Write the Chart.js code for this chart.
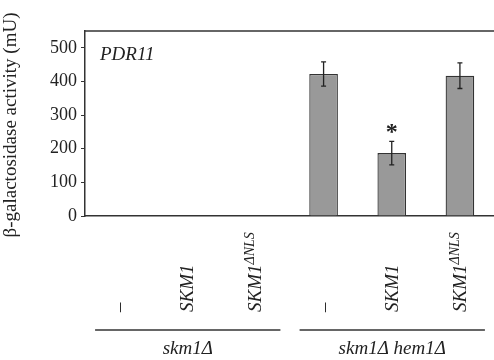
<!DOCTYPE html>
<html>
<head>
<meta charset="utf-8">
<script src="https://cdn.jsdelivr.net/npm/chart.js@4.4.1/dist/chart.umd.min.js"></script>
<style>
  body { margin: 0; background: #fff; }
</style>
</head>
<body>
<canvas id="myBarChart" width="494" height="360"></canvas>
<script>
// data
const categories = ['\u2013', 'SKM1', 'SKM1', '\u2013', 'SKM1', 'SKM1'];
const superscripts = ['', '', '\u0394NLS', '', '', '\u0394NLS'];
const activity = [0, 0, 0, 422, 187, 417];
const errors = [0, 0, 0, 36, 35, 38];
const stars = ['', '', '', '', '*', ''];
const groupNames = ['skm1\u0394', 'skm1\u0394 hem1\u0394'];
const groupStart = [0, 3];
const groupEnd = [2, 5];
const yTicks = [0, 100, 200, 300, 400, 500];

const serif = '"Liberation Serif", "DejaVu Serif", serif';
const ink = '#222';

const decorations = {
  id: 'decorations',
  afterDraw(chart) {
    const { ctx, chartArea } = chart;
    const x = chart.scales.x;
    const y = chart.scales.y;
    ctx.save();

    // top frame line
    ctx.strokeStyle = '#333';
    ctx.lineWidth = 1.5;
    ctx.beginPath();
    ctx.moveTo(chartArea.left, chartArea.top);
    ctx.lineTo(chartArea.right, chartArea.top);
    ctx.stroke();

    // error bars + significance marks
    ctx.lineWidth = 1.3;
    ctx.strokeStyle = ink;
    activity.forEach((v, i) => {
      if (!errors[i]) return;
      const px = x.getPixelForValue(i);
      const hi = y.getPixelForValue(v + errors[i]);
      const lo = y.getPixelForValue(v - errors[i]);
      ctx.beginPath();
      ctx.moveTo(px, hi); ctx.lineTo(px, lo);
      ctx.moveTo(px - 2.5, hi); ctx.lineTo(px + 2.5, hi);
      ctx.moveTo(px - 2.5, lo); ctx.lineTo(px + 2.5, lo);
      ctx.stroke();
      if (stars[i]) {
        ctx.fillStyle = ink;
        ctx.font = 'bold 24px ' + serif;
        ctx.textAlign = 'center';
        ctx.textBaseline = 'alphabetic';
        ctx.fillText(stars[i], px, hi - 2);
      }
    });

    // gene name in the panel
    ctx.fillStyle = ink;
    ctx.font = 'italic 19px ' + serif;
    ctx.textAlign = 'left';
    ctx.textBaseline = 'middle';
    ctx.fillText('PDR11', chartArea.left + 15, 55);

    // y axis title
    ctx.save();
    ctx.translate(11, 125);
    ctx.rotate(-Math.PI / 2);
    ctx.font = '19px ' + serif;
    ctx.textAlign = 'center';
    ctx.textBaseline = 'middle';
    ctx.fillText('\u03b2-galactosidase activity (mU)', 0, 0);
    ctx.restore();

    // rotated category labels
    categories.forEach((c, i) => {
      const px = x.getPixelForValue(i);
      ctx.save();
      ctx.translate(px + 6, 312);
      ctx.rotate(-Math.PI / 2);
      ctx.textAlign = 'left';
      ctx.textBaseline = 'alphabetic';
      ctx.font = 'italic 19px ' + serif;
      ctx.fillText(c, 0, 0);
      if (superscripts[i]) {
        const w = ctx.measureText(c).width;
        ctx.font = 'italic 14px ' + serif;
        ctx.fillText(superscripts[i], w, -7);
      }
      ctx.restore();
    });

    // group brackets
    ctx.strokeStyle = '#333';
    ctx.lineWidth = 1.3;
    groupNames.forEach((g, k) => {
      const a = x.getPixelForValue(groupStart[k]) - 24;
      const b = x.getPixelForValue(groupEnd[k]) + 25;
      ctx.beginPath();
      ctx.moveTo(a, 330); ctx.lineTo(b, 330);
      ctx.stroke();
      ctx.font = 'italic 19px ' + serif;
      ctx.textAlign = 'center';
      ctx.textBaseline = 'alphabetic';
      ctx.fillText(g, (a + b) / 2, 354);
    });

    ctx.restore();
  }
};

const ctx = document.getElementById('myBarChart').getContext('2d');

const activityChart = new Chart(ctx, {
  type: 'bar',
  data: {
    labels: categories,
    datasets: [{
      data: activity,
      backgroundColor: '#999999',
      borderColor: '#333',
      borderWidth: 1.3,
      barPercentage: 0.42,
      categoryPercentage: 1
    }]
  },
  options: {
    responsive: false,
    animation: false,
    layout: { padding: { left: 0, top: 31, right: 0, bottom: 144 } },
    plugins: {
      legend: { display: false },
      tooltip: { enabled: false }
    },
    scales: {
      x: {
        grid: { display: false },
        border: { display: true, color: '#333', width: 1.5 },
        ticks: { display: false },
        afterFit: (s) => { s.height = 0; }
      },
      y: {
        min: 0,
        max: 550,
        afterBuildTicks: (s) => { s.ticks = yTicks.map(v => ({ value: v })); },
        afterFit: (s) => { s.width = 85; },
        grid: { drawOnChartArea: false, tickLength: 4, color: '#333' },
        border: { display: true, color: '#333', width: 1.5 },
        ticks: {
          color: ink,
          padding: 4,
          font: { family: serif, size: 18 }
        }
      }
    }
  },
  plugins: [decorations]
});
</script>
</body>
</html>
